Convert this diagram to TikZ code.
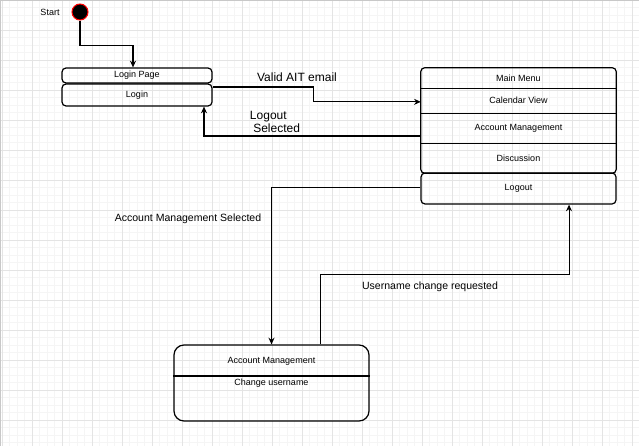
\documentclass[tikz,border=0pt]{standalone}
\usepackage{fontspec}
\setmainfont{Liberation Sans}
\usetikzlibrary{arrows.meta}

\tikzset{
  gridminor/.style={draw={rgb,255:red,245;green,245;blue,245},line width=0.45pt},
  gridmajor/.style={draw={rgb,255:red,228;green,228;blue,228},line width=0.6pt},
  statebox/.style={draw,line width=0.9pt,rounded corners=3pt,minimum width=112.5pt,font=\fontsize{6.75}{8}\selectfont,inner sep=0pt},
  section/.style={minimum width=146.25pt,font=\fontsize{6.75}{8}\selectfont,inner sep=0pt},
  flow/.style={line width=0.8pt,-{Stealth[length=5pt,width=4.5pt]}},
  flowlabel/.style={font=\fontsize{9}{10}\selectfont,align=left},
  flowlabelsm/.style={font=\fontsize{7.9}{9}\selectfont}
}

\begin{document}
\begin{tikzpicture}[x=0.75pt,y=0.75pt,yscale=-1,xscale=1]
\useasboundingbox (0,0) rectangle (639,446);
\fill[white] (0,0) rectangle (639,446);

%Grid
\foreach \gx in {0,...,85} \draw[gridminor] (2+7.5*\gx,0) -- (2+7.5*\gx,446);
\foreach \gy in {0,...,59} \draw[gridminor] (0,7.5*\gy) -- (639,7.5*\gy);
\foreach \gx in {0,...,21} \draw[gridmajor] (2+30*\gx,0) -- (2+30*\gx,446);
\foreach \gy in {0,...,14} \draw[gridmajor] (0,30*\gy) -- (639,30*\gy);
\draw[draw={rgb,255:red,200;green,200;blue,200},line width=1pt] (0.5,446) -- (0.5,0.5) -- (639,0.5);

%Shape: Start circle
\node[circle,draw={rgb,255:red,255;green,0;blue,0},fill=black,line width=0.8pt,minimum size=12pt,inner sep=0pt] (start) at (80,12) {};
% Text Node
\node[font=\fontsize{6.75}{8}\selectfont] (starttxt) at (50,12) {Start};

%Shape: Login state
\node[statebox,minimum height=11.25pt] (loginpage) at (137,75.5) {Login Page};
\node[statebox,minimum height=16.5pt] (login) at (137,95) {Login};

%Shape: Main Menu state
\node[section,minimum height=15pt] (mainmenu) at (518.5,78) {Main Menu};
\node[section,minimum height=18.75pt] (calendar) at (518.5,100.5) {Calendar View};
\node[section,minimum height=22.5pt] (account) at (518.5,128) {Account Management};
\node[section,minimum height=22.5pt] (discussion) at (518.5,158) {Discussion};
\draw[line width=0.9pt,rounded corners=3pt] (mainmenu.north west) rectangle (discussion.south east);
\draw[line width=0.9pt] (mainmenu.south west) -- (mainmenu.south east);
\draw[line width=0.9pt] (calendar.south west) -- (calendar.south east);
\draw[line width=0.9pt] (account.south west) -- (account.south east);
\node[statebox,minimum width=146.25pt,minimum height=23.25pt] (logout) at (518.5,188.5) {Logout};

%Shape: Account Management state
\node[draw,line width=0.9pt,rounded corners=7.5pt,minimum width=146.25pt,minimum height=57pt,inner sep=0pt] (accmgr) at (271.5,383) {};
\draw[line width=0.9pt] (accmgr.west |- 0,376) -- (accmgr.east |- 0,376);
\node[font=\fontsize{6.75}{8}\selectfont] (accmgrtitle) at (271.5,361) {Account Management};
\node[font=\fontsize{6.75}{8}\selectfont] (accmgrdo) at (271.5,383) {Change username};

%Straight Lines: transitions
\draw[flow] (start.south) -- ++(0,25) -| ([xshift=-3pt]loginpage.north);
\draw[flow] ([yshift=-6pt]login.east) -- ++(101,0) |- ([yshift=1pt]calendar.west);
\draw[flow] ([yshift=6pt]account.west) -| ([xshift=50.25pt]login.south);
\draw[flow] ([yshift=-1pt]logout.west) -| (accmgr.north);
\draw[flow] ([xshift=36.4pt]accmgr.north) -- ++(0,-70) -| ([xshift=37.9pt]logout.south);

% Text Node
\node[flowlabel] (validtxt) at (297,77) {Valid AIT email};
% Text Node
\node[flowlabel] (logouttxt) at (275,122) {Logout\\\ Selected};
% Text Node
\node[flowlabelsm] (accseltxt) at (188,219) {Account Management Selected};
% Text Node
\node[flowlabelsm] (usertxt) at (430,287) {Username change requested};

\end{tikzpicture}
\end{document}
